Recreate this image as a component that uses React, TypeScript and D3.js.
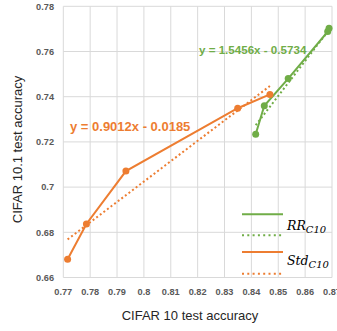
import React from "react";
import * as d3 from "d3";

const xTicks = [0.77, 0.78, 0.79, 0.8, 0.81, 0.82, 0.83, 0.84, 0.85, 0.86, 0.87];
const yTicks = [0.66, 0.68, 0.7, 0.72, 0.74, 0.76, 0.78];

const stdX = [0.7716, 0.7786, 0.7933, 0.8349, 0.8469];
const stdY = [0.6681, 0.6837, 0.7071, 0.7349, 0.741];

const rrX = [0.8416, 0.8448, 0.8537, 0.8684, 0.8689];
const rrY = [0.7234, 0.736, 0.748, 0.7688, 0.7703];

const stdFit = { slope: 0.9012, intercept: -0.0185, label: "y = 0.9012x - 0.0185" };
const rrFit = { slope: 1.5456, intercept: -0.5734, label: "y = 1.5456x - 0.5734" };

const ORANGE = "#ED7D31";
const GREEN = "#70AD47";

export default function App() {
  const W = 337, H = 331;
  const x = d3.scaleLinear().domain([0.77, 0.87]).range([63.3, 332]);
  const y = d3.scaleLinear().domain([0.66, 0.78]).range([277.5, 6.3]);
  const line = d3.line<[number, number]>().x(d => x(d[0])).y(d => y(d[1]));

  const std: [number, number][] = stdX.map((v, i) => [v, stdY[i]]);
  const rr: [number, number][] = rrX.map((v, i) => [v, rrY[i]]);

  const fitLine = (xs: number[], f: { slope: number; intercept: number }) => {
    const lo = d3.min(xs)!, hi = d3.max(xs)!;
    return line([[lo, f.slope * lo + f.intercept], [hi, f.slope * hi + f.intercept]]);
  };

  const tickFont = { fontFamily: "'Liberation Sans', Arial, sans-serif", fontSize: 9.2, fontWeight: 700, fill: "#595959" } as const;

  return (
    <svg width={W} height={H} style={{ position: "absolute", left: 0, top: 0, background: "#fff" }}>
      {xTicks.map(t => (
        <line key={"gx" + t} x1={x(t)} x2={x(t)} y1={y(0.78)} y2={y(0.66)} stroke="#d9d9d9" strokeWidth={1} />
      ))}
      {yTicks.map(t => (
        <line key={"gy" + t} x1={x(0.77)} x2={x(0.87)} y1={y(t)} y2={y(t)} stroke="#d9d9d9" strokeWidth={1} />
      ))}
      {yTicks.map(t => (
        <text key={"ty" + t} x={54} y={y(t)} dy="0.35em" textAnchor="end" {...tickFont}>{d3.format("")(t)}</text>
      ))}
      {xTicks.map(t => (
        <text key={"tx" + t} x={x(t)} y={295} textAnchor="middle" {...tickFont}>{d3.format("")(t)}</text>
      ))}
      <text x={190} y={320} textAnchor="middle" fontFamily="'Liberation Sans', Arial, sans-serif" fontSize={13} fill="#262626">CIFAR 10 test accuracy</text>
      <text transform={`translate(22,149.5) rotate(-90)`} textAnchor="middle" fontFamily="'Liberation Sans', Arial, sans-serif" fontSize={13} fill="#262626">CIFAR 10.1 test accuracy</text>

      <path d={fitLine(stdX, stdFit)!} fill="none" stroke={ORANGE} strokeWidth={2} strokeDasharray="2,2.5" />
      <path d={fitLine(rrX, rrFit)!} fill="none" stroke={GREEN} strokeWidth={2} strokeDasharray="2,2.5" />

      <path d={line(std)!} fill="none" stroke={ORANGE} strokeWidth={2} />
      <path d={line(rr)!} fill="none" stroke={GREEN} strokeWidth={2} />
      {std.map((d, i) => <circle key={"s" + i} cx={x(d[0])} cy={y(d[1])} r={3.5} fill={ORANGE} />)}
      {rr.map((d, i) => <circle key={"r" + i} cx={x(d[0])} cy={y(d[1])} r={3.5} fill={GREEN} />)}

      <text x={70} y={131} fontFamily="'Liberation Sans', Arial, sans-serif" fontSize={13} fontWeight={700} fill={ORANGE}>{stdFit.label}</text>
      <text x={199} y={54} fontFamily="'Liberation Sans', Arial, sans-serif" fontSize={11.6} fontWeight={700} fill={GREEN}>{rrFit.label}</text>

      <line x1={242} x2={283} y1={214.3} y2={214.3} stroke={GREEN} strokeWidth={2} />
      <line x1={242} x2={283} y1={235.3} y2={235.3} stroke={GREEN} strokeWidth={2} strokeDasharray="2,3.3" />
      <line x1={242} x2={283} y1={252} y2={252} stroke={ORANGE} strokeWidth={2} />
      <line x1={242} x2={283} y1={273.7} y2={273.7} stroke={ORANGE} strokeWidth={2} strokeDasharray="2,3.3" />
      <text x={287} y={230} fontFamily="'DejaVu Serif', 'Liberation Serif', serif" fontStyle="italic" fontSize={12.5} fill="#000">
        RR<tspan fontSize={10} dy={3}>C10</tspan>
      </text>
      <text x={287} y={265} fontFamily="'DejaVu Serif', 'Liberation Serif', serif" fontStyle="italic" fontSize={12.5} fill="#000">
        Std<tspan fontSize={10} dy={3}>C10</tspan>
      </text>
    </svg>
  );
}
